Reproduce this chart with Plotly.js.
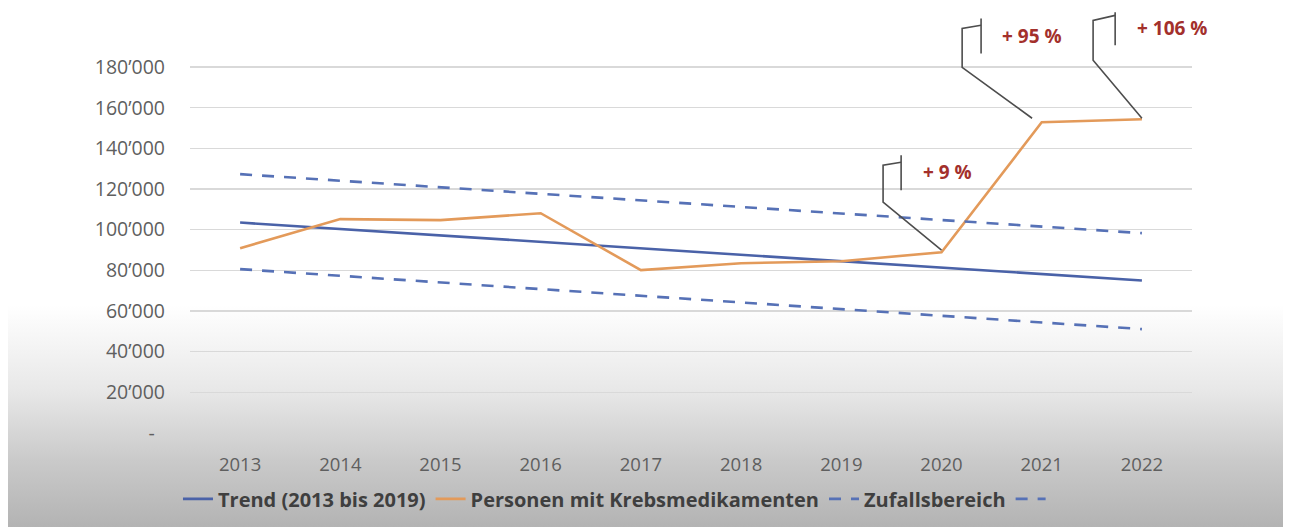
<!DOCTYPE html>
<html>
<head>
<meta charset="utf-8">
<script src="https://cdn.plot.ly/plotly-3.0.1.min.js"></script>
<style>
  html, body { margin: 0; padding: 0; width: 1291px; height: 527px; overflow: hidden; background: #ffffff; }
  #bg { position: absolute; left: 8px; top: 0; width: 1275px; height: 527px;
        background: linear-gradient(to bottom, #ffffff 0px, #ffffff 305px, #e8e8e8 390px, #cacaca 460px, #b3b3b3 527px); }
  #chart { position: absolute; left: 0; top: 0; width: 1291px; height: 527px; }
</style>
</head>
<body>
<div id="bg"></div>
<div id="chart"></div>
<script>
// ---- data ----
const years = [2013, 2014, 2015, 2016, 2017, 2018, 2019, 2020, 2021, 2022];
const trend = [103500, 100300, 97200, 94000, 90800, 87600, 84400, 81300, 78100, 75000];
const personen = [90900, 105200, 104700, 108100, 80100, 83500, 84500, 88900, 152800, 154300];
const upperBand = [127300, 124100, 120900, 117700, 114400, 111200, 108000, 104800, 101500, 98300];
const lowerBand = [80600, 77300, 74100, 70800, 67500, 64200, 61000, 57700, 54400, 51100];
const yTickVals = [0, 20000, 40000, 60000, 80000, 100000, 120000, 140000, 160000, 180000];
const yTickText = ["-\u00a0\u00a0", "20’000", "40’000", "60’000", "80’000", "100’000", "120’000", "140’000", "160’000", "180’000"];
const seriesNames = ["Trend (2013 bis 2019)", "Personen mit Krebsmedikamenten", "Zufallsbereich", " "];
const callouts = [
  {label: "+ 9 %",   year: 2020, value: 90000,
   elbow: [2019.417, 113500], top: [2019.417, 131700], bar: [2019.597, 133200, 136600, 119400], text: [2020.06, 128600]},
  {label: "+ 95 %",  year: 2020.904, value: 154800,
   elbow: [2020.206, 179850], top: [2020.206, 199000], bar: [2020.395, 200500, 203900, 186700], text: [2020.905, 195200]},
  {label: "+ 106 %", year: 2022.0, value: 154800,
   elbow: [2021.513, 183300], top: [2021.513, 202900], bar: [2021.733, 205400, 206900, 190700], text: [2022.30, 199000]}
];

const blue = "#4a62a8";
const blueDash = "#5671b6";
const orange = "#e39a5a";

const traces = [
  {x: years, y: trend, name: seriesNames[0], mode: "lines", line: {color: blue, width: 2.6}},
  {x: years, y: personen, name: seriesNames[1], mode: "lines", line: {color: orange, width: 2.6}},
  {x: years, y: upperBand, name: seriesNames[2], mode: "lines", line: {color: blueDash, width: 2.6, dash: "12px,10px"}},
  {x: years, y: lowerBand, name: seriesNames[3], mode: "lines", line: {color: blueDash, width: 2.6, dash: "12px,10px"}}
];

const shapes = [];
const annotations = [];
callouts.forEach(c => {
  shapes.push({
    type: "path", xref: "x", yref: "y", layer: "above",
    path: `M ${c.year},${c.value} L ${c.elbow[0]},${c.elbow[1]} L ${c.top[0]},${c.top[1]} L ${c.bar[0]},${c.bar[1]}`,
    line: {color: "#4d4d4d", width: 1.6}
  });
  shapes.push({
    type: "line", xref: "x", yref: "y", layer: "above",
    x0: c.bar[0], x1: c.bar[0], y0: c.bar[2], y1: c.bar[3],
    line: {color: "#4d4d4d", width: 1.6}
  });
  annotations.push({
    x: c.text[0], y: c.text[1], xref: "x", yref: "y", text: c.label, showarrow: false,
    font: {family: "Open Sans", size: 19, color: "#a3302c", weight: "bold"},
    xanchor: "center", yanchor: "middle"
  });
});

const layout = {
  width: 1291, height: 527,
  margin: {l: 190, r: 99, t: 5, b: 94},
  paper_bgcolor: "rgba(0,0,0,0)",
  plot_bgcolor: "rgba(0,0,0,0)",
  showlegend: true,
  legend: {
    orientation: "h", x: -0.012, xanchor: "left", y: -0.154, yanchor: "middle",
    font: {family: "Open Sans", size: 20, color: "#3f3f3f", weight: "bold"},
    bgcolor: "rgba(0,0,0,0)", traceorder: "normal", itemwidth: 30
  },
  xaxis: {
    type: "linear", range: [2012.5, 2022.5],
    tickvals: years, ticktext: years.map(String),
    showgrid: false, zeroline: false, showline: false, ticks: "",
    tickfont: {family: "Open Sans", size: 18.5, color: "#5f5f5f"},
    ticklabelstandoff: 18
  },
  yaxis: {
    range: [0, 210500],
    tickvals: yTickVals, ticktext: yTickText,
    showgrid: true, gridcolor: "#d9d9d9", gridwidth: 1.5,
    zeroline: false, showline: false, ticks: "",
    tickfont: {family: "Open Sans", size: 19.5, color: "#5f5f5f"},
    ticklabelstandoff: 24
  },
  shapes: shapes,
  annotations: annotations
};

Plotly.newPlot("chart", traces, layout, {displayModeBar: false, staticPlot: true});
</script>
</body>
</html>
